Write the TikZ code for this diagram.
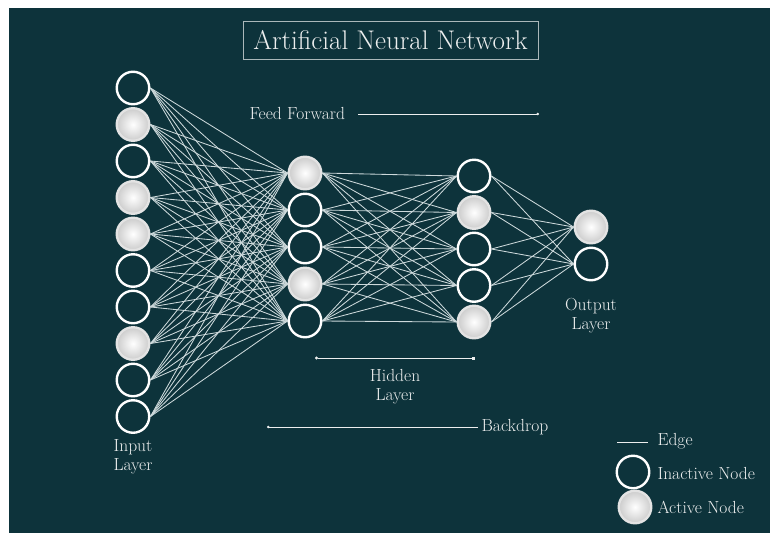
\documentclass[tikz,border=0pt]{standalone}
\usetikzlibrary{arrows.meta,calc}
\definecolor{bgteal}{RGB}{13,51,59}
\definecolor{edgegray}{RGB}{205,217,219}
\definecolor{txtgray}{RGB}{236,238,238}
\tikzset{
  neuron/.style={circle,line width=2.4pt,minimum size=32.5pt,inner sep=0pt},
  inactive/.style={neuron,draw=white,fill=bgteal},
  active/.style={neuron,draw=gray!22,inner color=white,outer color=gray!40},
  link/.style={draw=edgegray,line width=0.85pt},
  flow/.style={draw=txtgray,line width=1pt},
  lbl/.style={text=txtgray,font=\fontsize{17.5}{19}\selectfont,align=center},
}
\begin{document}
\begin{tikzpicture}[x=1pt,y=-1pt]
  \useasboundingbox (0,0) rectangle (770,533);
  \fill[white] (0,0) rectangle (770,533);
  \fill[bgteal] (9,8) rectangle (770,533);

  % title
  \node[draw=white!65!bgteal,line width=1pt,minimum width=295pt,minimum height=38pt,
        text=txtgray,font=\fontsize{27}{29}\selectfont] (title) at (390.5,40) {Artificial Neural Network};

  % layers
  \foreach \i/\s in {1/inactive,2/active,3/inactive,4/active,5/active,
                     6/inactive,7/inactive,8/active,9/inactive,10/inactive}
    \node[\s] (in\i) at (133,{88+36.5*(\i-1)}) {};
  \foreach \i/\s in {1/active,2/inactive,3/inactive,4/active,5/inactive}
    \node[\s] (ha\i) at (305,{173+37*(\i-1)}) {};
  \foreach \i/\s in {1/inactive,2/active,3/inactive,4/inactive,5/active}
    \node[\s] (hb\i) at (474,{176+36.5*(\i-1)}) {};
  \node[active] (out1) at (591,227) {};
  \node[inactive] (out2) at (591,264) {};

  % edges
  \foreach \i in {1,...,10}
    \foreach \j in {1,...,5}
      \draw[link] (in\i.east) -- (ha\j.west);
  \foreach \i in {1,...,5}
    \foreach \j in {1,...,5}
      \draw[link] (ha\i.east) -- (hb\j.west);
  \foreach \i in {1,...,5}
    \foreach \j in {1,2}
      \draw[link] (hb\i.east) -- (out\j.west);

  % labels
  \node[lbl] (inlbl) at (133,457) {Input\\Layer};
  \node[lbl] (outlbl) at (591,316) {Output\\Layer};
  \node[lbl] (hidlbl) at (395,387) {Hidden\\Layer};

  \coordinate (hidl) at (315,358);
  \coordinate (hidr) at (475,358);
  \draw[flow,{Circle[length=3pt]}-{Square[length=3pt]}] (hidl) -- (hidr);

  \node[lbl,anchor=west] (ff) at (246,113) {Feed Forward};
  \coordinate (ffs) at (358,114);
  \coordinate (ffe) at (539,114);
  \draw[flow,-{Circle[length=2.5pt]}] (ffs) -- (ffe);

  \node[lbl,anchor=west] (back) at (478,427) {Backdrop};
  \coordinate (backe) at (267,427);
  \draw[flow,-{Circle[length=2.5pt]}] (back.west) -- (backe);

  % legend
  \coordinate (edgel) at (617,442);
  \coordinate (edger) at (648,442);
  \draw[flow] (edgel) -- (edger);
  \node[lbl,anchor=west] (edgetxt) at (654,441) {Edge};
  \node[inactive] (leg1) at (633,472) {};
  \node[lbl,anchor=west] (leg1txt) at (654,473) {Inactive Node};
  \node[active] (leg2) at (635,507) {};
  \node[lbl,anchor=west] (leg2txt) at (654,507) {Active Node};
\end{tikzpicture}
\end{document}
